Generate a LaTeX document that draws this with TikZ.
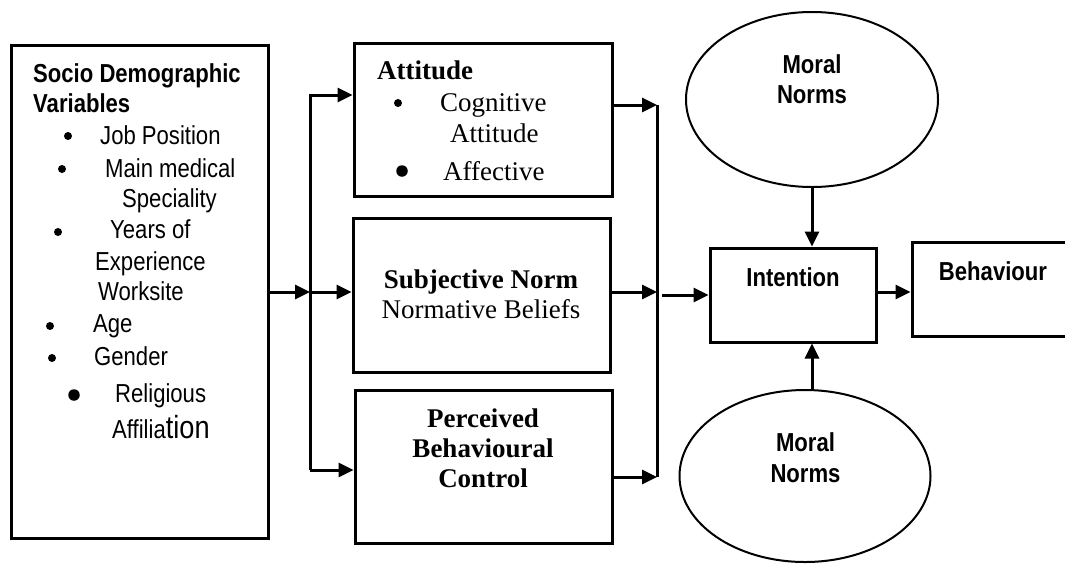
\documentclass[tikz,border=0pt]{standalone}
\usepackage{fontspec}
\setmainfont{Liberation Serif}
\setsansfont{Liberation Sans}[FakeStretch=0.85]
\usetikzlibrary{arrows.meta,shapes.geometric}

\newcommand{\sftext}{\sffamily\fontsize{26}{30}\selectfont}
\newcommand{\rmtext}{\rmfamily\fontsize{27}{31}\selectfont}

\tikzset{
  blok/.style={draw, line width=3pt, inner sep=0pt},
  oval/.style={draw, ellipse, line width=2pt, inner sep=0pt},
  wire/.style={line width=3pt},
  link/.style={line width=3pt, -{Triangle[length=15pt,width=14pt]}},
  lab/.style={inner sep=0pt, font=\sftext},
  labb/.style={inner sep=0pt, font=\sftext\bfseries},
  tnr/.style={inner sep=0pt, font=\rmtext},
  tnrb/.style={inner sep=0pt, font=\rmtext\bfseries},
  dot/.style={circle, fill, inner sep=0pt, minimum size=8pt},
  bigdot/.style={dot, minimum size=11.5pt},
}

\begin{document}
\begin{tikzpicture}[x=1pt,y=-1pt]
\useasboundingbox (0,0) rectangle (1065,563);
\clip (0,0) rectangle (1065,563);

% boxes
\node[blok, minimum width=257pt, minimum height=493pt] (demo) at (139.5,291.5) {};
\node[blok, minimum width=258pt, minimum height=153pt] (att) at (483,119.5) {};
\node[blok, minimum width=257pt, minimum height=154pt] (subj) at (481.5,295) {};
\node[blok, minimum width=257pt, minimum height=153pt] (pbc) at (483.5,466.5) {};
\node[blok, minimum width=166pt, minimum height=94pt] (inten) at (793,295) {};
\node[blok, minimum width=168pt, minimum height=94pt] (behav) at (996,289) {};
\node[oval, minimum width=252pt, minimum height=175pt] (moraltop) at (812,99.5) {};
\node[oval, minimum width=251pt, minimum height=172pt] (moralbot) at (805,476) {};

% socio demographic variables
\node[labb, anchor=base west] (sdv1) at (33,82) {Socio Demographic};
\node[labb, anchor=base west] (sdv2) at (33,112) {Variables};
\node[dot] (b1) at (68,136) {};
\node[lab, anchor=base west] (t1) at (100,144) {Job Position};
\node[dot] (b2) at (62,169) {};
\node[lab, anchor=base west] (t2a) at (105,177) {Main medical};
\node[lab, anchor=base west] (t2b) at (122,207) {Speciality};
\node[dot] (b3) at (58,232) {};
\node[lab, anchor=base west] (t3a) at (110,238) {Years of};
\node[lab, anchor=base west] (t3b) at (95,270) {Experience};
\node[lab, anchor=base west] (t3c) at (98,300) {Worksite};
\node[dot] (b4) at (50,326) {};
\node[lab, anchor=base west] (t4) at (93,332) {Age};
\node[dot] (b5) at (52,358) {};
\node[lab, anchor=base west] (t5) at (94,365) {Gender};
\node[bigdot] (b6) at (74,395) {};
\node[lab, anchor=base west] (t6a) at (115,402) {Religious};
\node[lab, anchor=base west] (t6b) at (112,438) {Affilia{\fontsize{32}{34}\selectfont tion}};

% attitude
\node[tnrb, anchor=base west] (atth) at (377,79) {Attitude};
\node[dot] (ab1) at (398,103) {};
\node[tnr, anchor=base west] (ac1) at (440,111) {Cognitive};
\node[tnr, anchor=base west] (ac2) at (450,142) {Attitude};
\node[bigdot] (ab2) at (402,171) {};
\node[tnr, anchor=base west] (ac3) at (443,180) {Affective};

% subjective norm
\node[tnrb, anchor=base] (sn1) at (481,288) {Subjective Norm};
\node[tnr, anchor=base] (sn2) at (481,318) {Normative Beliefs};

% perceived behavioural control
\node[tnrb, anchor=base] (pb1) at (483,427) {Perceived};
\node[tnrb, anchor=base] (pb2) at (483,457) {Behavioural};
\node[tnrb, anchor=base] (pb3) at (483,487) {Control};

% right part
\node[labb, anchor=base] (mt1) at (812,73) {Moral};
\node[labb, anchor=base] (mt2) at (812,103) {Norms};
\node[labb, anchor=base] (mb1) at (805.5,451) {Moral};
\node[labb, anchor=base] (mb2) at (805.5,482) {Norms};
\node[labb, anchor=base] (it) at (793,286) {Intention};
\node[labb, anchor=base] (bh) at (993,280) {Behaviour};

% split points
\coordinate (splitL) at (310,292);
\coordinate (busTop) at (310,95);
\coordinate (busBot) at (310,470);
\coordinate (busR1) at (657,105);
\coordinate (busR2) at (657,292);
\coordinate (busR3) at (657,477);
\coordinate (gapR) at (662,295);

% connectors
\draw[link] (demo.east |- splitL) -- (splitL);
\draw[link] (busBot) -- (busTop) -- (busTop -| att.west);
\draw[link] (splitL) -- (splitL -| subj.west);
\draw[link] (busBot) -- (busBot -| pbc.west);

\draw[link] (att.east |- busR1) -- (busR1);
\draw[link] (subj.east |- busR2) -- (busR2);
\draw[link] (pbc.east |- busR3) -- (busR3);
\draw[wire] (busR1) -- (busR3);

\draw[link] (gapR) -- (inten.west);
\draw[link] (moraltop.south) -- (moraltop.south |- inten.north);
\draw[link] (moralbot.north -| moraltop.south) -- (inten.south -| moraltop.south);
\draw[link] (inten.east |- 0,292) -- (behav.west |- 0,292);
\end{tikzpicture}
\end{document}
